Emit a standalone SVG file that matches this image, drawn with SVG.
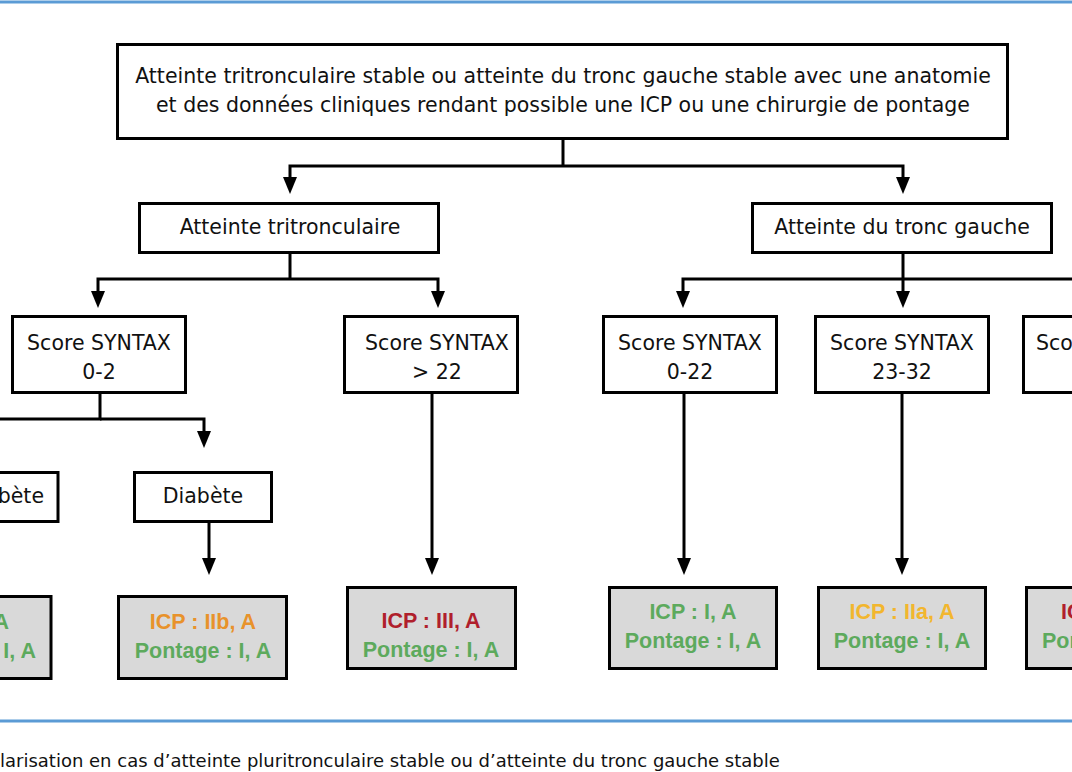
<svg xmlns="http://www.w3.org/2000/svg" width="1072" height="772" viewBox="0 0 1072 772">
<defs>
<marker id="arr" viewBox="0 0 17 14" refX="11" refY="7" markerWidth="17" markerHeight="14" markerUnits="userSpaceOnUse" orient="auto">
<path d="M0,0 L17,7 L0,14 z" fill="#000"/>
</marker>
<style>
.box{fill:#fff;stroke:#000;stroke-width:3}
.res{fill:#d9d9d9;stroke:#000;stroke-width:3}
.t{font-family:"DejaVu Sans",sans-serif;font-size:20.5px;fill:#111;text-anchor:middle}
.b{font-family:"Liberation Sans",Arial,sans-serif;font-weight:bold;font-size:21.5px;text-anchor:middle}
.red{fill:#b01f2c}.ora{fill:#e8922b}.yel{fill:#f2b62e}.grn{fill:#5daa5d}
.c path{fill:none;stroke:#000;stroke-width:3}
.rule{stroke:#5b9bd5;stroke-width:3}
</style>
</defs>
<rect width="1072" height="772" fill="#fff"/>
<line class="rule" x1="0" y1="2" x2="1072" y2="2"/>
<line class="rule" x1="0" y1="721" x2="1072" y2="721"/>

<g class="c" id="connectors">
<path d="M563,140 V166"/>
<path d="M563,166 H290 V188" marker-end="url(#arr)"/>
<path d="M563,166 H903 V188" marker-end="url(#arr)"/>
<path d="M290,254 V279"/>
<path d="M290,279 H98 V302" marker-end="url(#arr)"/>
<path d="M290,279 H438 V302" marker-end="url(#arr)"/>
<path d="M903,254 V302" marker-end="url(#arr)"/>
<path d="M903,279 H683 V302" marker-end="url(#arr)"/>
<path d="M903,279 H1072"/>
<path d="M100,394 V419 H0"/>
<path d="M100,419 H204 V442" marker-end="url(#arr)"/>
<path d="M432,394 V569" marker-end="url(#arr)"/>
<path d="M209,522 V569" marker-end="url(#arr)"/>
<path d="M684,394 V569" marker-end="url(#arr)"/>
<path d="M902,394 V569" marker-end="url(#arr)"/>
</g>

<g id="top">
<rect class="box" x="117.5" y="44.5" width="890" height="94"/>
<text class="t" x="563" y="83">Atteinte tritronculaire stable ou atteinte du tronc gauche stable avec une anatomie</text>
<text class="t" x="563" y="112">et des données cliniques rendant possible une ICP ou une chirurgie de pontage</text>
</g>
<g id="tri">
<rect class="box" x="139.5" y="203.5" width="299" height="49"/>
<text class="t" x="290" y="234">Atteinte tritronculaire</text>
</g>
<g id="tronc">
<rect class="box" x="752.5" y="203.5" width="299" height="49"/>
<text class="t" x="902" y="234">Atteinte du tronc gauche</text>
</g>
<g id="s02">
<rect class="box" x="12.5" y="316.5" width="173" height="76"/>
<text class="t" x="99" y="350">Score SYNTAX</text>
<text class="t" x="99" y="379">0-2</text>
</g>
<g id="s22">
<rect class="box" x="344.5" y="316.5" width="173" height="76"/>
<text class="t" x="437" y="350">Score SYNTAX</text>
<text class="t" x="437" y="379">&gt; 22</text>
</g>
<g id="s022">
<rect class="box" x="603.5" y="316.5" width="173" height="76"/>
<text class="t" x="690" y="350">Score SYNTAX</text>
<text class="t" x="690" y="379">0-22</text>
</g>
<g id="s2332">
<rect class="box" x="815.5" y="316.5" width="173" height="76"/>
<text class="t" x="902" y="350">Score SYNTAX</text>
<text class="t" x="902" y="379">23-32</text>
</g>
<g id="s33">
<rect class="box" x="1023.5" y="316.5" width="173" height="76"/>
<text class="t" x="1036" y="350" style="text-anchor:start">Sco</text>
</g>
<g id="nodiab">
<rect class="box" x="-80" y="472.5" width="138" height="49"/>
<text class="t" x="44" y="503" style="text-anchor:end">bète</text>
</g>
<g id="diab">
<rect class="box" x="134.5" y="472.5" width="137" height="49"/>
<text class="t" x="203" y="503">Diabète</text>
</g>
<g id="r-left">
<rect class="res" x="-120" y="596.5" width="171" height="82"/>
<text class="b grn" x="9" y="629" style="text-anchor:end">A</text>
<text class="b grn" x="36" y="658" style="text-anchor:end">I, A</text>
</g>
<g id="r-iib">
<rect class="res" x="118.5" y="596.5" width="168" height="82"/>
<text class="b ora" x="203" y="629">ICP : IIb, A</text>
<text class="b grn" x="203" y="658">Pontage : I, A</text>
</g>
<g id="r-iii">
<rect class="res" x="347.5" y="587.5" width="168" height="81"/>
<text class="b red" x="431" y="628">ICP : III, A</text>
<text class="b grn" x="431" y="657">Pontage : I, A</text>
</g>
<g id="r-022">
<rect class="res" x="609.5" y="587.5" width="167" height="81"/>
<text class="b grn" x="693" y="619">ICP : I, A</text>
<text class="b grn" x="693" y="648">Pontage : I, A</text>
</g>
<g id="r-2332">
<rect class="res" x="818.5" y="587.5" width="167" height="81"/>
<text class="b yel" x="902" y="619">ICP : IIa, A</text>
<text class="b grn" x="902" y="648">Pontage : I, A</text>
</g>
<g id="r-33">
<rect class="res" x="1026.5" y="587.5" width="168" height="81"/>
<text class="b red" x="1061" y="619" style="text-anchor:start">IC</text>
<text class="b grn" x="1042" y="648" style="text-anchor:start">Por</text>
</g>
<text x="0" y="767" style="font-family:'DejaVu Sans',sans-serif;font-size:18px;fill:#111">larisation en cas d’atteinte pluritronculaire stable ou d’atteinte du tronc gauche stable</text>
</svg>
